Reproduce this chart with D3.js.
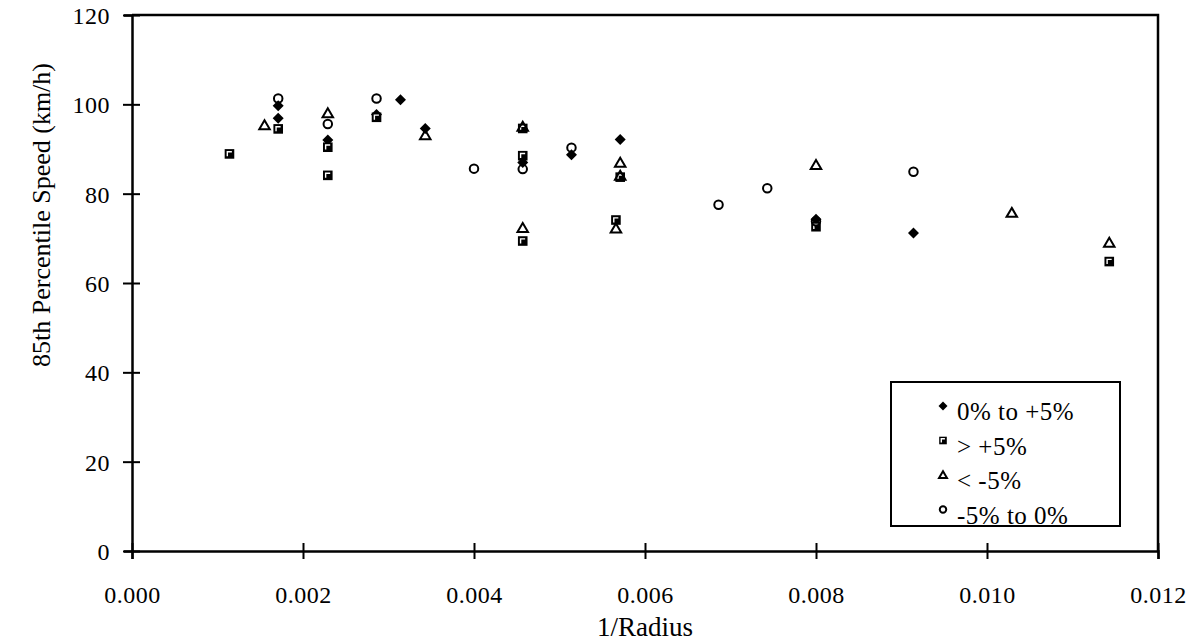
<!DOCTYPE html>
<html>
<head>
<meta charset="utf-8">
<script src="https://cdn.jsdelivr.net/npm/d3@7"></script>
<style>
  body { margin: 0; background: white; }
</style>
</head>
<body>
<svg></svg>
<script>
// series: [1/radius, speed]
let seriesNames = ["0% to +5%", "> +5%", "< -5%", "-5% to 0%"];
let seriesShapes = ["diamond", "square", "triangle", "circle"];

let plus0to5 = [
  [0.00171, 99.7], [0.00171, 96.9], [0.00229, 92.0], [0.00286, 97.7],
  [0.00314, 101.0], [0.00343, 94.6], [0.00457, 87.0], [0.00514, 88.7],
  [0.00571, 92.1], [0.00800, 74.3], [0.00914, 71.2]
];
let over5 = [
  [0.00114, 88.9], [0.00171, 94.5], [0.00229, 90.4], [0.00229, 84.1],
  [0.00286, 97.1], [0.00457, 94.6], [0.00457, 88.5], [0.00457, 69.4],
  [0.00566, 74.1], [0.00571, 83.7], [0.00800, 72.6], [0.01143, 64.8]
];
let under5 = [
  [0.00155, 95.3], [0.00229, 98.0], [0.00343, 93.1], [0.00457, 95.0],
  [0.00457, 72.3], [0.00566, 72.2], [0.00571, 86.9], [0.00571, 84.0],
  [0.00800, 86.4], [0.01029, 75.7], [0.01143, 69.0]
];
let minus5to0 = [
  [0.00171, 101.3], [0.00229, 95.6], [0.00286, 101.3], [0.00400, 85.6],
  [0.00457, 85.5], [0.00514, 90.3], [0.00686, 77.5], [0.00743, 81.2],
  [0.00800, 73.8], [0.00914, 84.9]
];
let allSeries = [plus0to5, over5, under5, minus5to0];

let xTicks = [0, 0.002, 0.004, 0.006, 0.008, 0.010, 0.012];
let yTicks = [0, 20, 40, 60, 80, 100, 120];

let width = 1199;
let height = 643;
let plot = { left: 132, right: 1158, top: 15, bottom: 551 };
let serif = '"Liberation Serif", "Times New Roman", Times, serif';

let svg = d3.select("svg")
            .attr("width", width)
            .attr("height", height)
            .style("font-family", serif);

let scaleX = d3.scaleLinear().domain([0, 0.012]).range([plot.left, plot.right]);
let scaleY = d3.scaleLinear().domain([0, 120]).range([plot.bottom, plot.top]);

createAxes();
createPoints();
createLegend();

function createAxes(){
    // frame top / right
    svg.append("path")
       .attr("d", `M${plot.left},${plot.top} H${plot.right} V${plot.bottom}`)
       .attr("fill", "none")
       .attr("stroke", "black")
       .attr("stroke-width", 2.5);

    let xAxis = d3.axisBottom(scaleX).tickValues(xTicks).tickFormat(d3.format(".3f")).tickSize(8);
    let gx = svg.append("g")
       .attr("transform", `translate(0, ${plot.bottom})`)
       .call(xAxis);
    gx.attr("font-family", null).attr("font-size", null);
    gx.select(".domain").attr("stroke-width", 2.5);
    gx.selectAll(".tick line").attr("y1", -8).attr("stroke-width", 2);
    gx.selectAll(".tick text")
      .attr("y", 52)
      .attr("dy", null)
      .style("font-family", serif)
      .style("font-size", "24px")
      .style("letter-spacing", "0.5px");

    let yAxis = d3.axisLeft(scaleY).tickValues(yTicks).tickSize(8);
    let gy = svg.append("g")
       .attr("transform", `translate(${plot.left}, 0)`)
       .call(yAxis);
    gy.attr("font-family", null).attr("font-size", null);
    gy.select(".domain").attr("stroke-width", 2.5);
    gy.selectAll(".tick line").attr("x2", 8).attr("x1", -9).attr("stroke-width", 2);
    gy.selectAll(".tick text")
      .attr("x", -22)
      .attr("dy", "0.35em")
      .style("font-family", serif)
      .style("font-size", "24px")
      .style("letter-spacing", "0.5px");

    svg.append("text")
       .attr("x", (plot.left + plot.right) / 2)
       .attr("y", 636)
       .attr("text-anchor", "middle")
       .style("font-family", serif)
       .style("font-size", "27px")
       .text("1/Radius");

    svg.append("text")
       .attr("transform", `translate(50, 215) rotate(-90)`)
       .attr("text-anchor", "middle")
       .style("font-family", serif)
       .style("font-size", "26px")
       .text("85th Percentile Speed (km/h)");
}

function drawMarker(g, shape, x, y, s){
    if(shape === "diamond"){
        g.append("path")
         .attr("d", `M${x},${y - s} L${x + s},${y} L${x},${y + s} L${x - s},${y} Z`)
         .attr("fill", "black");
    } else if(shape === "square"){
        g.append("rect")
         .attr("x", x - s).attr("y", y - s)
         .attr("width", 2 * s).attr("height", 2 * s)
         .attr("fill", "black");
        g.append("path")
         .attr("d", `M${x - s * 0.45},${y + s * 0.5} V${y - s * 0.45} H${x + s * 0.5}`)
         .attr("fill", "none")
         .attr("stroke", "white")
         .attr("stroke-width", 1.4);
    } else if(shape === "triangle"){
        g.append("path")
         .attr("d", `M${x},${y - s} L${x + s * 1.05},${y + s * 0.8} L${x - s * 1.05},${y + s * 0.8} Z`)
         .attr("fill", "none")
         .attr("stroke", "black")
         .attr("stroke-width", 2);
    } else {
        g.append("circle")
         .attr("cx", x).attr("cy", y).attr("r", s * 0.85)
         .attr("fill", "none")
         .attr("stroke", "black")
         .attr("stroke-width", 2);
    }
}

function createPoints(){
    let g = svg.append("g").attr("class", "points");
    let sizes = [5.5, 4.8, 5, 5];
    allSeries.forEach((series, i) => {
        series.forEach(d => {
            drawMarker(g, seriesShapes[i], scaleX(d[0]), scaleY(d[1]), sizes[i]);
        });
    });
}

function createLegend(){
    let box = { x: 891, y: 382, w: 229, h: 144 };
    svg.append("rect")
       .attr("x", box.x).attr("y", box.y)
       .attr("width", box.w).attr("height", box.h)
       .attr("fill", "white")
       .attr("stroke", "black")
       .attr("stroke-width", 2);

    let g = svg.append("g").attr("id", "legend");
    seriesNames.forEach((name, i) => {
        let cy = 406 + i * 34.5;
        drawMarker(g, seriesShapes[i], 943, cy, i === 0 ? 4.5 : 3.8);
        g.append("text")
         .attr("x", 957)
         .attr("y", cy + 14)
         .style("font-family", serif)
         .style("font-size", "25px")
         .style("letter-spacing", "0.5px")
         .text(name);
    });
}
</script>
</body>
</html>
